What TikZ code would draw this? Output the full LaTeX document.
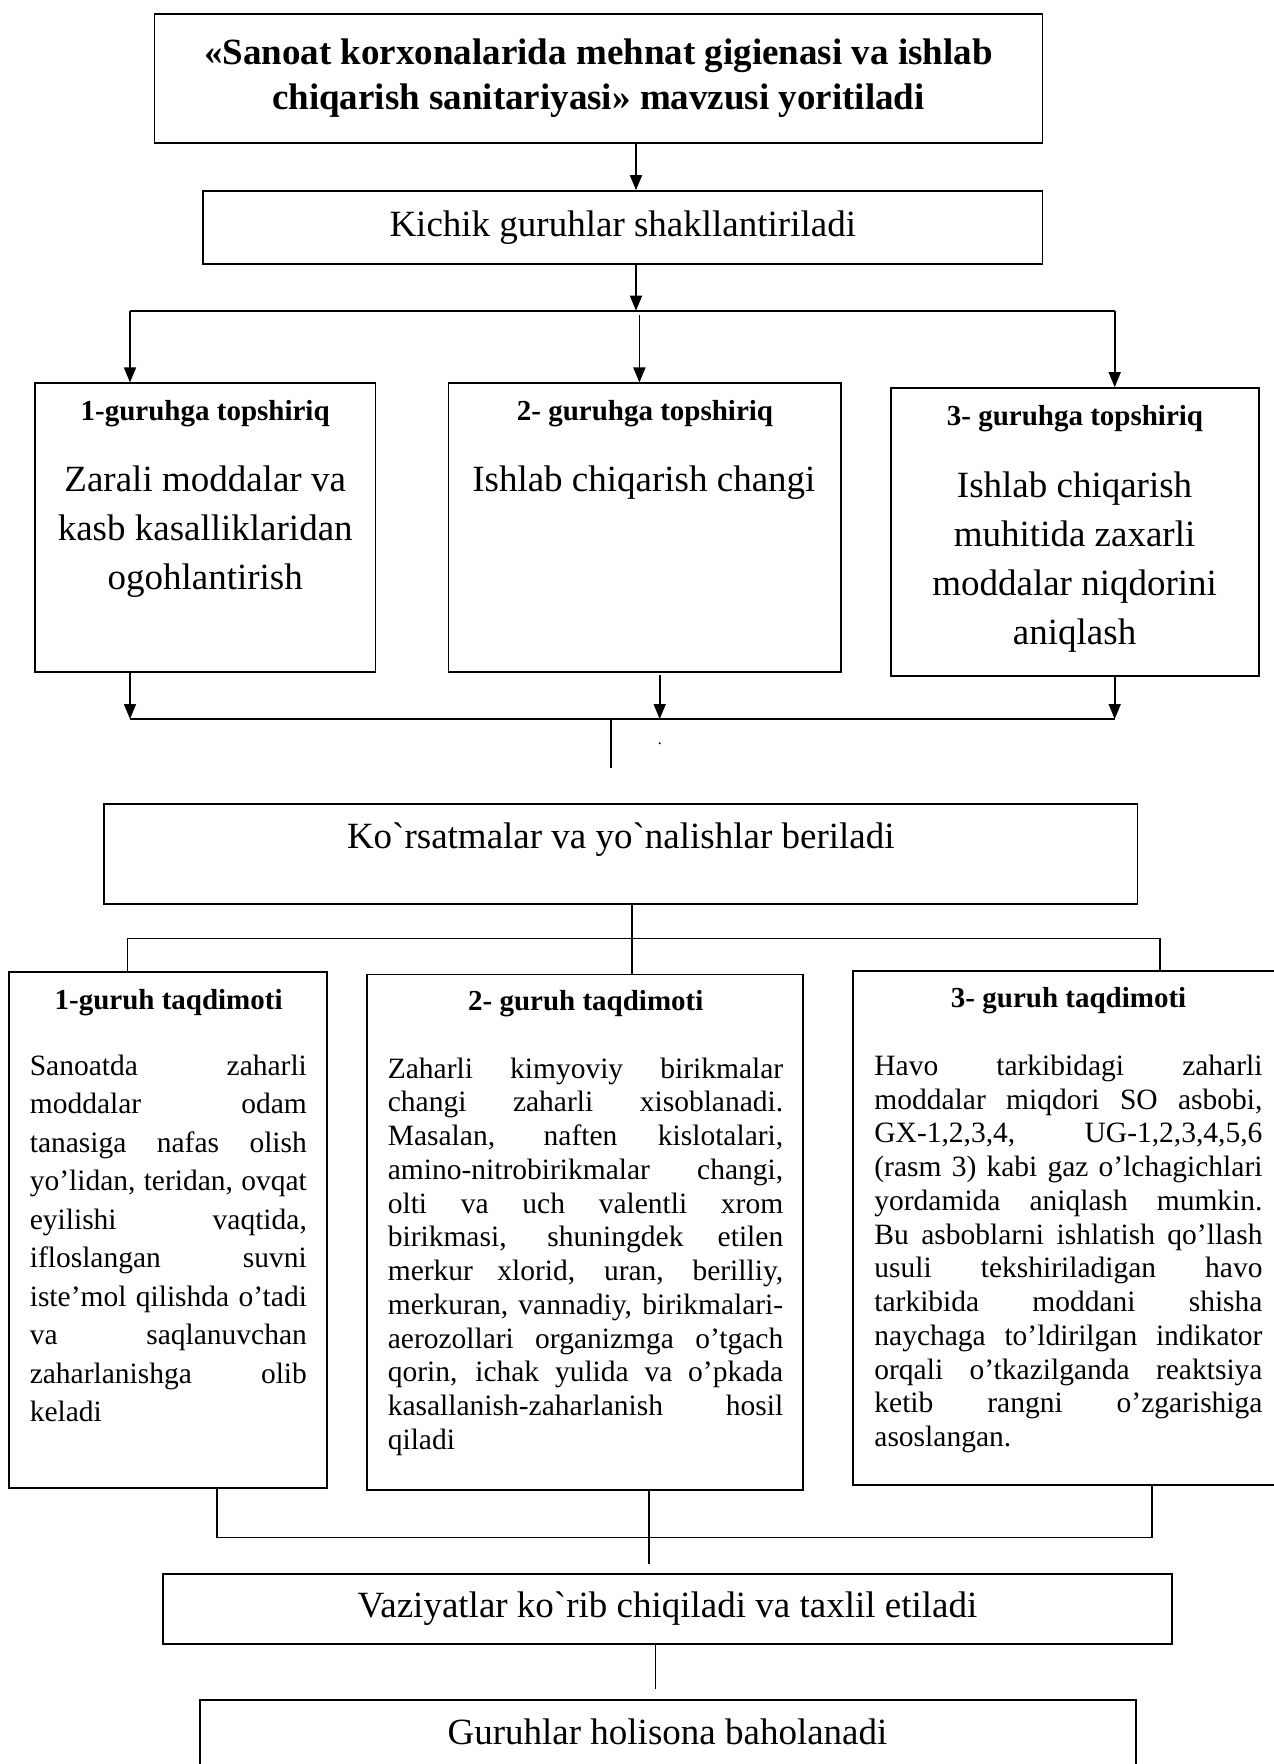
\documentclass[tikz,border=0pt]{standalone}
\usepackage{fontspec}
\setmainfont{Liberation Serif}[Ligatures=TeXOff]
\usetikzlibrary{arrows.meta}
\tolerance=10000
\hyphenpenalty=10000
\begin{document}
\begin{tikzpicture}[x=1pt,y=-1pt,
    box/.style={draw,line width=1.7pt,inner sep=0pt,align=center},
    link/.style={line width=1.6pt},
    thinlink/.style={line width=1.3pt},
    arrow/.style={link,-{Triangle[length=15pt,width=12pt]}},
    title/.style={font=\bfseries\fontsize{37}{45}\selectfont,align=center},
    big/.style={font=\fontsize{37}{49}\selectfont,align=center},
    head/.style={font=\bfseries\fontsize{29}{34}\selectfont},
    para/.style={font=\fontsize{29.5}{33.75}\selectfont,align=justify,inner sep=0pt}]
      \useasboundingbox (0,0) rectangle (1274,1764);
      \clip (0,0) rectangle (1274,1764);
      \node[box,title,minimum width=888pt,minimum height=129.3pt] (top) at (598.4,78.6)
        {«Sanoat korxonalarida mehnat gigienasi va ishlab\\chiqarish sanitariyasi» mavzusi yoritiladi};
      \node[box,big,minimum width=839.3pt,minimum height=73pt] (groups) at (622.75,227.5)
        {Kichik guruhlar shakllantiriladi};
      \node[box,minimum width=340.5pt,minimum height=288.4pt] (task1) at (205.15,527.5) {};
      \node[box,minimum width=392.4pt,minimum height=288.4pt] (task2) at (644.7,527.5) {};
      \node[box,minimum width=368pt,minimum height=288pt] (task3) at (1075.3,532) {};
      \node[head] (task1h) at (205.2,413.3) {1-guruhga topshiriq};
      \node[head] (task2h) at (645,413.3) {2- guruhga topshiriq};
      \node[head] (task3h) at (1075,418.3) {3- guruhga topshiriq};
      \node[big] (task1b) at (205.2,532) {Zarali moddalar va\\kasb kasalliklaridan\\ogohlantirish};
      \node[big] (task2b) at (643.9,482.7) {Ishlab chiqarish changi};
      \node[big] (task3b) at (1074.6,561.7) {Ishlab chiqarish\\muhitida zaxarli\\moddalar niqdorini\\aniqlash};
      \coordinate (split1) at (636,310.7);
      \coordinate (split1w) at (130,310.7);
      \coordinate (split1e) at (1114.7,310.7);
      \coordinate (drop2) at (639.4,315);
      \draw[arrow] (top.south -| split1) -- (groups.north -| split1);
      \draw[arrow] (groups.south -| split1) -- (split1);
      \draw[link] (split1w) -- (split1e);
      \draw[arrow] (split1w) -- (task1.north -| split1w);
      \draw[arrow] (drop2) -- (task2.north -| drop2);
      \draw[arrow] (split1e) -- (task3.north -| split1e);
      \coordinate (merge1) at (611,719);
      \coordinate (merge1w) at (130,719);
      \coordinate (merge1e) at (1114.7,719);
      \coordinate (rise2) at (659.7,675);
      \coordinate (stub1) at (611,768.3);
      \draw[arrow] (task1.south -| merge1w) -- (merge1w);
      \draw[arrow] (rise2) -- (rise2 |- merge1);
      \draw[arrow] (task3.south -| merge1e) -- (merge1e);
      \draw[link] (merge1w) -- (merge1e);
      \draw[thinlink] (merge1) -- (stub1);
      \fill (659.7,743.3) circle (1.1pt);
      \node[box,minimum width=1033.5pt,minimum height=100pt] (guide) at (620.75,854) {};
      \node[big] (guidet) at (620.8,840) {Ko`rsatmalar va yo`nalishlar beriladi};
      \node[box,minimum width=318.3pt,minimum height=515.8pt] (show1) at (168.15,1229.9) {};
      \node[box,minimum width=436pt,minimum height=515.4pt] (show2) at (585.3,1232.3) {};
      \node[box,minimum width=437pt,minimum height=514.2pt] (show3) at (1071.5,1227.9) {};
      \node[head] (show1h) at (168.6,1002.6) {1-guruh taqdimoti};
      \node[head] (show2h) at (585.8,1003.3) {2- guruh taqdimoti};
      \node[head] (show3h) at (1068.6,1000.3) {3- guruh taqdimoti};
      \node[para,text width=277.1pt,font=\fontsize{29.5}{38.5}\selectfont] (show1b) at (168.35,1238.6)
        {Sanoatda zaharli\linebreak moddalar odam\linebreak tanasiga nafas olish\linebreak
         yo’lidan, teridan, ovqat\linebreak eyilishi vaqtida,\linebreak ifloslangan suvni\linebreak
         iste’mol qilishda o’tadi\linebreak va saqlanuvchan\linebreak zaharlanishga olib\linebreak keladi};
      \node[para,text width=395.4pt] (show2b) at (585.5,1256.7)
        {Zaharli kimyoviy birikmalar\linebreak changi zaharli xisoblanadi.\linebreak
         Masalan, naften kislotalari,\linebreak amino-nitrobirikmalar changi,\linebreak
         olti va uch valentli xrom\linebreak birikmasi, shuningdek etilen\linebreak
         merkur xlorid, uran, berilliy,\linebreak merkuran, vannadiy, birikmalari-\linebreak
         aerozollari organizmga o’tgach\linebreak qorin, ichak yulida va o’pkada\linebreak
         kasallanish-zaharlanish hosil\linebreak qiladi};
      \node[para,text width=388.1pt] (show3b) at (1068.45,1254)
        {Havo tarkibidagi zaharli\linebreak moddalar miqdori SO asbobi,\linebreak
         GX-1,2,3,4, UG-1,2,3,4,5,6\linebreak (rasm 3) kabi gaz o’lchagichlari\linebreak
         yordamida aniqlash mumkin.\linebreak Bu asboblarni ishlatish qo’llash\linebreak
         usuli tekshiriladigan havo\linebreak tarkibida moddani shisha\linebreak
         naychaga to’ldirilgan indikator\linebreak orqali o’tkazilganda reaktsiya\linebreak
         ketib rangni o’zgarishiga\linebreak asoslangan.};
      \coordinate (split2) at (632.1,938.3);
      \coordinate (split2w) at (127.6,938.3);
      \coordinate (split2e) at (1160.2,938.3);
      \draw[link] (guide.south -| split2) -- (show2.north -| split2);
      \draw[link] (show1.north -| split2w) -- (split2w) -- (split2e) -- (show3.north -| split2e);
      \coordinate (merge2) at (649,1537.7);
      \coordinate (merge2w) at (217,1537.7);
      \coordinate (merge2e) at (1152,1537.7);
      \coordinate (stub2) at (649,1564);
      \draw[thinlink] (show1.south -| merge2w) -- (merge2w) -- (merge2e) -- (show3.south -| merge2e);
      \draw[thinlink] (show2.south -| merge2) -- (stub2);
      \node[box,big,minimum width=1009pt,minimum height=70.3pt] (review) at (667.5,1608.85)
        {Vaziyatlar ko`rib chiqiladi va taxlil etiladi};
      \coordinate (stub3) at (655.6,1689);
      \draw[thinlink] (review.south -| stub3) -- (stub3);
      \node[box,minimum width=936pt,minimum height=120pt] (score) at (668,1760) {};
      \node[big] (scoret) at (667.5,1732.3) {Guruhlar holisona baholanadi};
    \end{tikzpicture}
\end{document}
